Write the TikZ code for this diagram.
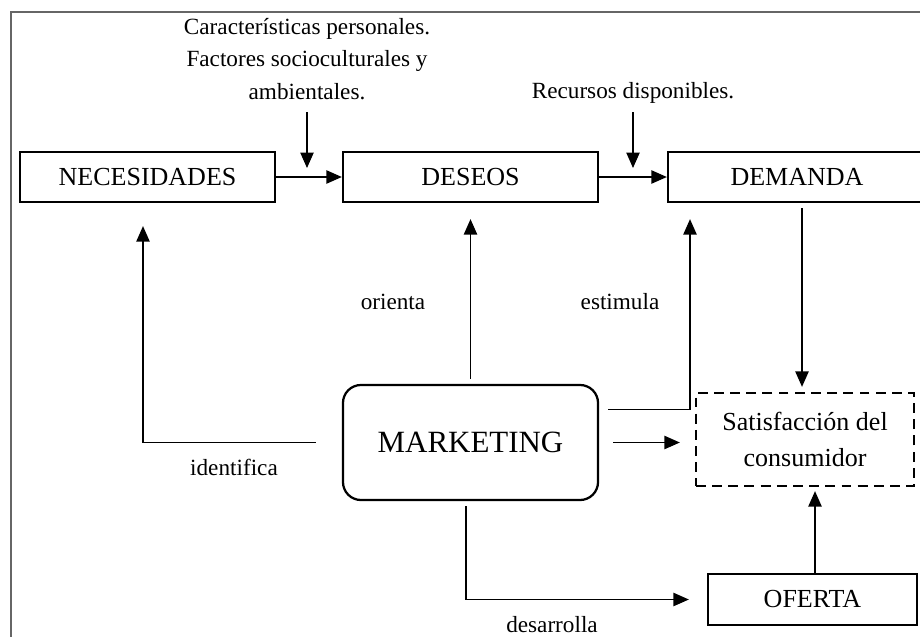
\documentclass[tikz,border=0pt]{standalone}
\usepackage{fontspec}
\setmainfont{Liberation Serif}
\usetikzlibrary{arrows.meta,calc}

\begin{document}
\begin{tikzpicture}[x=0.025cm,y=-0.025cm,
  box/.style={draw,line width=1.6pt,minimum height=1.25cm,font=\fontsize{18.5}{25}\selectfont},
  conn/.style={line width=0.9pt,-{Triangle[length=11pt,width=9.5pt]}},
  lbl/.style={font=\fontsize{16.5}{23}\selectfont}]
\clip (0,0) rectangle (920,637);
\draw[line width=1.4pt,black!60] (11,645) |- (930,12);

% boxes
\node[box,minimum width=6.375cm] (nec) at (147.5,177) {NECESIDADES};
\node[box,minimum width=6.375cm] (des) at (470.5,177) {DESEOS};
\node[box,minimum width=6.45cm] (dem) at (797,177) {DEMANDA};
\node[box,rounded corners=0.45cm,minimum width=6.375cm,minimum height=2.875cm,
  font=\fontsize{22}{26}\selectfont] (mkt) at (470.5,442.5) {MARKETING};
\node[box,dash pattern=on 7pt off 4.5pt,minimum width=5.45cm,minimum height=2.325cm,
  align=center] (sat) at (805,439.5) {Satisfacción del\\consumidor};
\node[box,minimum width=5.225cm,minimum height=1.275cm] (ofe) at (812.5,599.5) {OFERTA};

% side texts
\node[lbl,align=center] (car) at (307,59) {Características personales.\\Factores socioculturales y\\ambientales.};
\node[lbl] (rec) at (633,93) {Recursos disponibles.};
\node[lbl] (ori) at (393,302) {orienta};
\node[lbl] (est) at (620,302) {estimula};
\node[lbl] (ide) at (234,467) {identifica};
\node[lbl] (dsr) at (552,625) {desarrolla};

% connectors
\draw[conn] (nec.east) -- (des.west);
\draw[conn] (des.east) -- (dem.west);
\draw[conn] (car.south |- 0,112) -- (car.south |- 0,168);
\draw[conn] (rec.south |- 0,112) -- (rec.south |- 0,168);
\draw[conn,shorten <=0.65cm,shorten >=0.575cm] (mkt.west) -| (nec.south -| 143,0);
\draw[conn,shorten <=0.125cm,shorten >=0.4cm] (mkt.north) -- (des.south);
\draw[conn,shorten >=0.4cm] ($(mkt.east)+(9,-33)$) -| (dem.south -| 690,0);
\draw[conn,shorten <=0.35cm,shorten >=0.375cm] (mkt.east) -- (mkt.east -| sat.west);
\draw[conn,shorten <=0.125cm,shorten >=0.125cm] (dem.south -| 802,0) -- (sat.north -| 802,0);
\draw[conn,shorten >=0.1cm] (ofe.north -| 815,0) -- (sat.south -| 815,0);
\draw[conn,shorten <=0.125cm,shorten >=0.45cm] (mkt.south -| 466,0) |- (ofe.west);
\end{tikzpicture}
\end{document}
